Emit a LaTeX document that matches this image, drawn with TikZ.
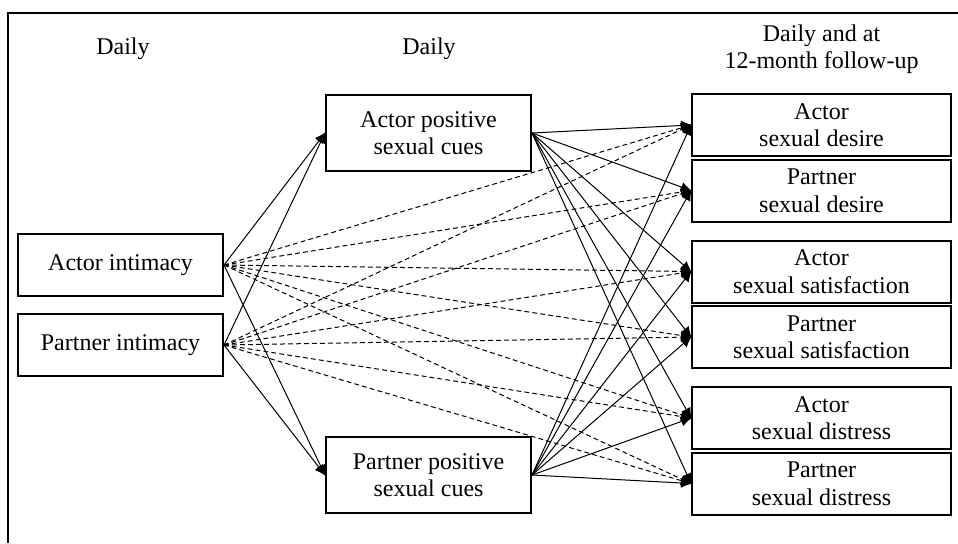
\documentclass[tikz,border=0pt]{standalone}
\usepackage{fontspec}
\setmainfont{Liberation Serif}
\usetikzlibrary{arrows.meta}
\begin{document}
\begin{tikzpicture}[x=0.5pt,y=-0.5pt,
    font=\fontsize{12}{13.75}\selectfont,
    var/.style={rectangle,draw,line width=1pt,align=center,inner sep=0pt},
    hd/.style={inner sep=0pt,align=center},
    path/.style={line width=0.5pt,-{Latex[length=5.5pt,width=5pt]},shorten >=-0.5pt},
    cov/.style={path,dash pattern=on 2.4pt off 1.6pt}]
  \useasboundingbox (0,0) rectangle (958,543);
  \draw[line width=1pt] (958,13)--(8,13)--(8,543);
  % time labels
  \node[hd,anchor=base] (t1) at (123,54) {Daily};
  \node[hd,anchor=base] (t2) at (429,54) {Daily};
  \node[hd] (t3) at (821.5,49) {Daily and at\\12-month follow-up};
  % intimacy
  \node[var,minimum width=102.5pt,minimum height=31pt] (Ai) at (120.5,265) {Actor intimacy};
  \node[var,minimum width=102.5pt,minimum height=31pt] (Pi) at (120.5,345) {Partner intimacy};
  % sexual cues
  \node[var,minimum width=102.5pt,minimum height=38pt] (Ac) at (428.5,133) {Actor positive\\sexual cues};
  \node[var,minimum width=102.5pt,minimum height=38pt] (Pc) at (428.5,475) {Partner positive\\sexual cues};
  % outcomes
  \node[var,minimum width=129.5pt,minimum height=31pt] (Ad) at (821.5,125) {Actor\\sexual desire};
  \node[var,minimum width=129.5pt,minimum height=31pt] (Pd) at (821.5,190.5) {Partner\\sexual desire};
  \node[var,minimum width=129.5pt,minimum height=31pt] (As) at (821.5,271.5) {Actor\\sexual satisfaction};
  \node[var,minimum width=129.5pt,minimum height=31pt] (Ps) at (821.5,337) {Partner\\sexual satisfaction};
  \node[var,minimum width=129.5pt,minimum height=31pt] (Ax) at (821.5,418) {Actor\\sexual distress};
  \node[var,minimum width=129.5pt,minimum height=31pt] (Px) at (821.5,483.5) {Partner\\sexual distress};
  % intimacy -> cues
  \path[path] (Ai.east) edge (Ac.west) edge (Pc.west)
              (Pi.east) edge (Ac.west) edge (Pc.west);
  % intimacy -> outcomes (direct)
  \path[cov] (Ai.east) edge (Ad.west) edge (Pd.west) edge (As.west)
                       edge (Ps.west) edge (Ax.west) edge (Px.west)
             (Pi.east) edge (Ad.west) edge (Pd.west) edge (As.west)
                       edge (Ps.west) edge (Ax.west) edge (Px.west);
  % cues -> outcomes
  \path[path] (Ac.east) edge (Ad.west) edge (Pd.west) edge (As.west)
                        edge (Ps.west) edge (Ax.west) edge (Px.west)
              (Pc.east) edge (Ad.west) edge (Pd.west) edge (As.west)
                        edge (Ps.west) edge (Ax.west) edge (Px.west);
\end{tikzpicture}
\end{document}
